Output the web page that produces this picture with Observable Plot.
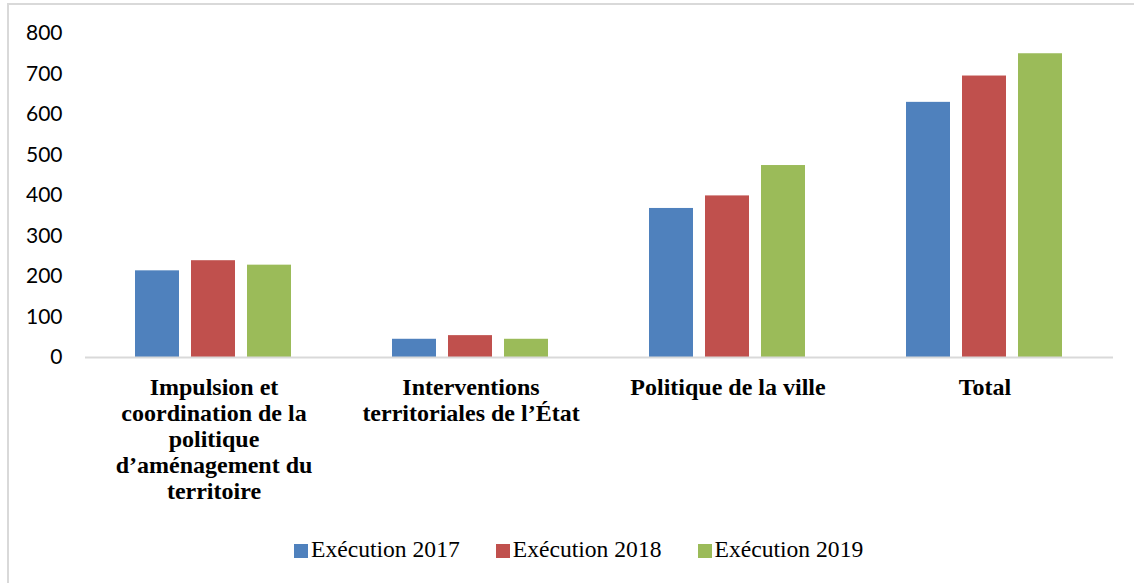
<!DOCTYPE html>
<html>
<head>
<meta charset="utf-8">
<script src="https://cdn.jsdelivr.net/npm/d3@7"></script>
<script src="https://cdn.jsdelivr.net/npm/@observablehq/plot@0.6"></script>
<style>
  html, body { margin: 0; padding: 0; background: #fff; }
  #wrap { position: relative; width: 1134px; height: 583px; overflow: hidden; }
  #frame { position: absolute; left: 7px; top: 3px; width: 1200px; height: 700px;
           border-left: 2px solid #d9d9d9; border-top: 2px solid #d9d9d9; }
  #chart { position: absolute; left: 0; top: 0; }
  #legend { position: absolute; left: 294px; top: 535px; height: 28px; display: flex; align-items: center;
            font-family: "Liberation Serif", "Times New Roman", serif; font-size: 23.6px; color: #000; }
  .item { display: flex; align-items: center; margin-right: 36px; }
  .sw { width: 14px; height: 14px; margin-right: 3px; margin-top: 3px; }
</style>
</head>
<body>
<div id="wrap">
  <div id="frame"></div>
  <div id="chart"></div>
  <div id="legend"></div>
</div>
<script>
const categories = [
  "Impulsion et coordination de la politique d’aménagement du territoire",
  "Interventions territoriales de l’État",
  "Politique de la ville",
  "Total"
];
const categoryLabels = [
  "Impulsion et\ncoordination de la\npolitique\nd’aménagement du\nterritoire",
  "Interventions\nterritoriales de l’État",
  "Politique de la ville",
  "Total"
];
const series = ["Exécution 2017", "Exécution 2018", "Exécution 2019"];
const colors = ["#4F81BD", "#C0504D", "#9BBB59"];
const exec2017 = [214, 45, 368, 630];
const exec2018 = [239, 54, 399, 695];
const exec2019 = [228, 45, 474, 750];
const yTicks = [0, 100, 200, 300, 400, 500, 600, 700, 800];

const valuesBySeries = [exec2017, exec2018, exec2019];
const data = [];
categories.forEach((c, i) => {
  series.forEach((s, j) => {
    data.push({category: c, series: s, value: valuesBySeries[j][i]});
  });
});

const chart = Plot.plot({
  width: 1134,
  height: 520,
  marginLeft: 84,
  marginRight: 21,
  marginTop: 33,
  marginBottom: 163,
  fx: {domain: categories, padding: 0, label: null},
  x: {domain: series, paddingInner: 0.2105, paddingOuter: 0.862, axis: null},
  y: {domain: [0, 800], label: null},
  color: {domain: series, range: colors},
  marks: [
    Plot.barY(data, {fx: "category", x: "series", y: "value", fill: "series"}),
    Plot.ruleY([0], {stroke: "#d9d9d9", strokeWidth: 2}),
    Plot.axisY({ticks: yTicks, tickSize: 0, tickPadding: 23, fontSize: 21,
                fontFamily: "Lato, 'Open Sans', sans-serif", label: null, tickFormat: d => String(d)}),
    Plot.axisFx({anchor: "bottom", tickSize: 0, tickPadding: 19, label: null,
                 tickFormat: d => categoryLabels[categories.indexOf(d)],
                 fontSize: 24, fontWeight: "bold", lineHeight: 1.08,
                 fontFamily: "'Liberation Serif', 'Times New Roman', serif"})
  ]
});
document.getElementById("chart").appendChild(chart);

const legend = document.getElementById("legend");
series.forEach((s, i) => {
  const item = document.createElement("div");
  item.className = "item";
  const sw = document.createElement("div");
  sw.className = "sw";
  sw.style.background = colors[i];
  const t = document.createElement("span");
  t.textContent = s;
  item.appendChild(sw);
  item.appendChild(t);
  legend.appendChild(item);
});
</script>
</body>
</html>
